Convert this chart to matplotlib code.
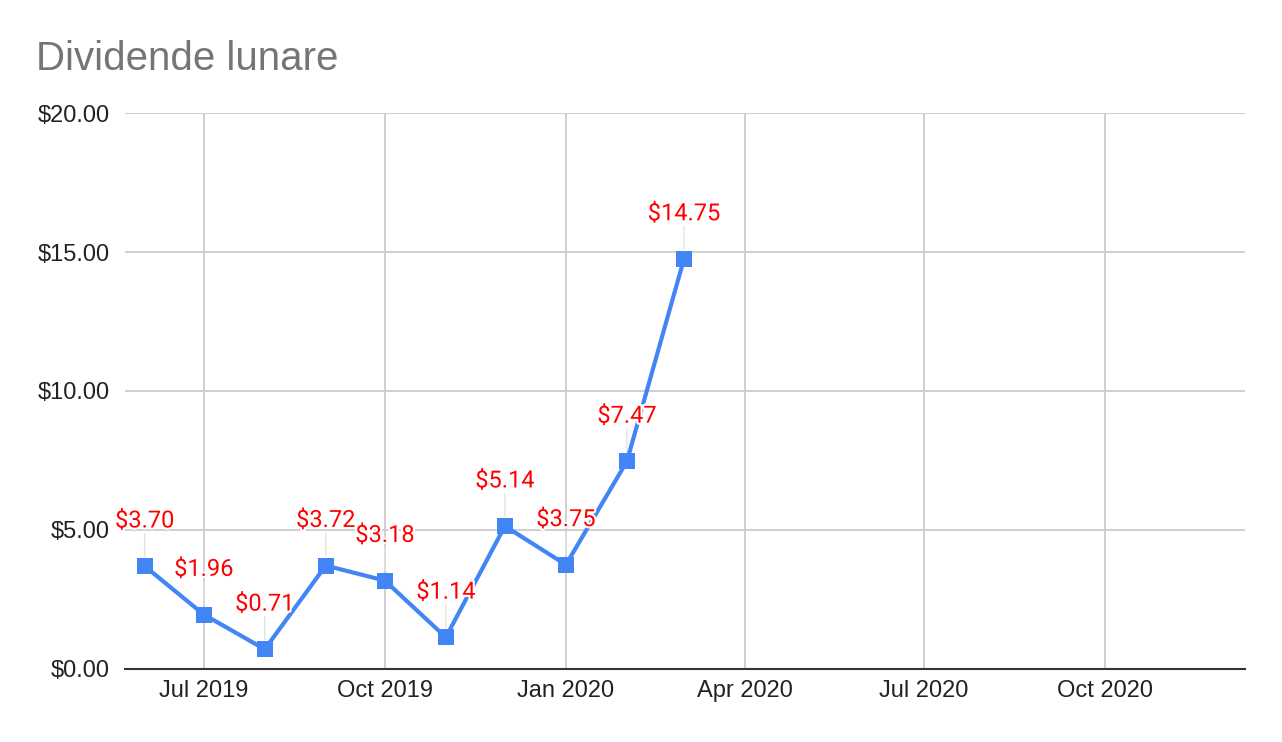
import datetime as dt
import matplotlib
matplotlib.use("Agg")
import matplotlib.pyplot as plt
import matplotlib.dates as mdates
import matplotlib.patheffects as pe
from matplotlib.ticker import FuncFormatter

# === DATA ===
months = [dt.date(2019, 6, 1), dt.date(2019, 7, 1), dt.date(2019, 8, 1),
          dt.date(2019, 9, 1), dt.date(2019, 10, 1), dt.date(2019, 11, 1),
          dt.date(2019, 12, 1), dt.date(2020, 1, 1), dt.date(2020, 2, 1),
          dt.date(2020, 3, 1)]
dividends = [3.70, 1.96, 0.71, 3.72, 3.18, 1.14, 5.14, 3.75, 7.47, 14.75]
x_ticks = [dt.date(2019, 7, 1), dt.date(2019, 10, 1), dt.date(2020, 1, 1),
           dt.date(2020, 4, 1), dt.date(2020, 7, 1), dt.date(2020, 10, 1)]
y_ticks = [0, 5, 10, 15, 20]

# === STYLE ===
plt.rcParams['font.family'] = ['Liberation Sans', 'DejaVu Sans']
blue = '#4285f4'
grid_col = '#cccccc'

fig = plt.figure(figsize=(12.82, 7.42), dpi=100)
ax = fig.add_axes([0.0975, 0.0984, 0.8736, 0.7493])

ax.plot(months, dividends, color=blue, lw=3, marker='s', ms=11,
        markeredgewidth=0, zorder=4)

# leader lines + value labels
for d, v in zip(months, dividends):
    ax.annotate('', xy=(d, v), xytext=(0, 23.5), textcoords='offset points',
                arrowprops=dict(arrowstyle='-', color='#e3e3e3', lw=1,
                                shrinkA=0, shrinkB=7),
                zorder=2)
    ax.annotate('\\$%.2f' % v, xy=(d, v), xytext=(0, 32.5),
                textcoords='offset points', ha='center', va='center',
                fontsize=17, color='#ff0000', zorder=5, family='Roboto',
                path_effects=[pe.withStroke(linewidth=3, foreground='white')])

ax.set_xlim(dt.date(2019, 5, 22), dt.date(2020, 12, 11))
ax.set_ylim(0, 20)
ax.set_xticks(x_ticks)
ax.xaxis.set_major_formatter(mdates.DateFormatter('%b %Y'))
ax.set_yticks(y_ticks)
ax.yaxis.set_major_formatter(FuncFormatter(lambda v, p: '$%.2f' % v))

ax.grid(True, color=grid_col, lw=1.3, zorder=0)
ax.set_axisbelow(True)
for s in ['top', 'right', 'left']:
    ax.spines[s].set_visible(False)
ax.spines['bottom'].set_color('#333333')
ax.spines['bottom'].set_linewidth(1.5)
ax.spines['bottom'].set_zorder(3)
ax.tick_params(length=0, labelsize=17, colors='#222222')
ax.tick_params(axis='x', pad=8)
ax.tick_params(axis='y', pad=11)

fig.text(0.028, 0.9057, 'Dividende lunare', fontsize=29, color='#757575',
         ha='left', va='baseline')

fig.savefig('out.png', dpi=100, facecolor='white')
